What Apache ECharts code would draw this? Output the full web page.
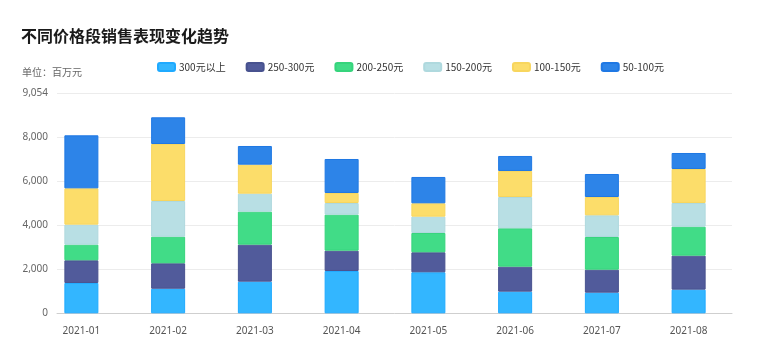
<!DOCTYPE html>
<html>
<head>
<meta charset="utf-8">
<script src="https://cdn.jsdelivr.net/npm/echarts@6/dist/echarts.min.js"></script>
<style>
html,body{margin:0;padding:0;background:#fff;}
#main{width:764px;height:356px;}
</style>
</head>
<body>
<div id="main"></div>
<script>
var categories = ['2021-01','2021-02','2021-03','2021-04','2021-05','2021-06','2021-07','2021-08'];
var seriesNames = ['300元以上','250-300元','200-250元','150-200元','100-150元','50-100元'];
var s300 = [1379,1118,1439,1924,1864,985,939,1076];
var s250 = [1030,1155,1682,924,909,1136,1045,1545];
var s200 = [712,1209,1500,1636,879,1742,1485,1318];
var s150 = [909,1623,818,530,742,1424,985,1076];
var s100 = [1651,2590,1318,455,606,1182,833,1545];
var s50 = [2409,1214,848,1545,1197,682,1045,727];
var yTickValues = [0,2000,4000,6000,8000,10000];
var yTickLabels = ['0','2,000','4,000','6,000','8,000','9,054'];

var colors = ['#33B6FF','#515B9B','#41DC87','#B8DFE4','#FCDD6A','#2D84E8'];
var borders = ['#1FAAFF','#48528F','#36D47C','#AFD9DE','#F8D65E','#1F78E4'];
var values = [s300,s250,s200,s150,s100,s50];

var chart = echarts.init(document.getElementById('main'), null, {renderer:'canvas'});
var series = values.map(function(v,i){
  return {
    name: seriesNames[i], type:'bar', stack:'total', data:v,
    xAxisIndex:1, yAxisIndex:1, barWidth:34,
    itemStyle:{color:colors[i], borderColor:borders[i], borderWidth:1}
  };
});
chart.setOption({
  animation:false,
  color:colors,
  title:[
    {text:'不同价格段销售表现变化趋势', left:21, top:28, padding:0,
     textStyle:{fontSize:16, fontWeight:'bold', color:'#1a1a1a', fontFamily:'Noto Sans CJK SC'}},
    {text:'单位：百万元', left:22, top:67, padding:0,
     textStyle:{fontSize:10, fontWeight:'normal', color:'#666', fontFamily:'Noto Sans CJK SC'}}
  ],
  legend:{
    data:seriesNames, left:157, top:62, padding:0, itemGap:20,
    itemWidth:17, itemHeight:8, icon:'roundRect',
    textStyle:{fontSize:10, color:'#333', fontFamily:'Noto Sans CJK SC', padding:[0,0,0,-1]}
  },
  grid:[
    {left:57, right:32, top:93.3, bottom:42.7},
    {left:38, right:32, top:93.3, bottom:42.7}
  ],
  xAxis:[
    {type:'category', gridIndex:0, data:categories,
     axisLine:{show:true, lineStyle:{color:'#cfcfcf'}}, axisTick:{show:false}, axisLabel:{show:false}},
    {type:'category', gridIndex:1, data:categories,
     axisLine:{show:false}, axisTick:{show:false},
     axisLabel:{margin:13, fontSize:10, color:'#555', fontFamily:'Noto Sans'}}
  ],
  yAxis:[
    {type:'value', gridIndex:0, min:0, max:10000, interval:2000,
     axisLine:{show:false}, axisTick:{show:false},
     splitLine:{lineStyle:{color:'#ececec'}},
     axisLabel:{margin:9, fontSize:10, color:'#666', fontFamily:'Noto Sans',
       formatter:function(v){ var k = yTickValues.indexOf(v); return k>=0 ? yTickLabels[k] : ''; }}},
    {type:'value', gridIndex:1, min:0, max:10000, interval:2000, show:false,
     splitLine:{show:false}}
  ],
  series:series
});
</script>
</body>
</html>
